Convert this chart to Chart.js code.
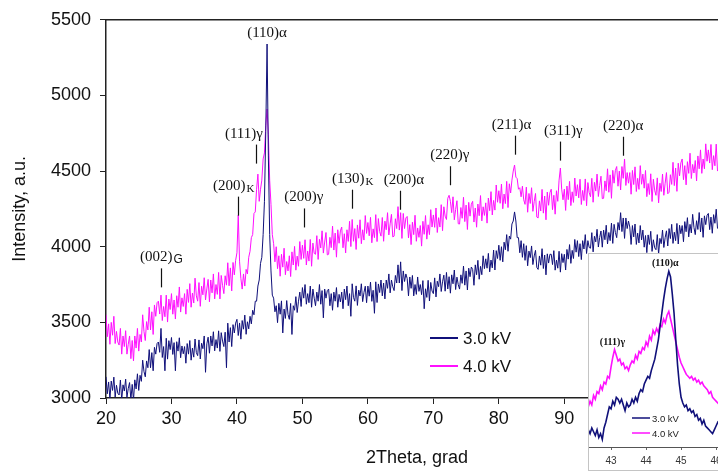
<!DOCTYPE html>
<html>
<head>
<meta charset="utf-8">
<script src="https://cdn.jsdelivr.net/npm/chart.js@4.4.1/dist/chart.umd.min.js"></script>
<style>
  html, body { margin: 0; padding: 0; background: #fff; width: 718px; height: 474px; overflow: hidden; }
  #wrap { position: relative; width: 718px; height: 474px; overflow: hidden; }
  #main { position: absolute; left: 0; top: 0; }
  #insetBox { position: absolute; left: 588px; top: 253px; width: 160px; height: 216px;
              border: 1px solid #c4c4c4; background: #fff; }
</style>
</head>
<body>
<div id="wrap">
  <canvas id="main" width="735" height="474"></canvas>
  <div id="insetBox"><canvas id="inset" width="160" height="216"></canvas></div>
</div>
<script>
// main pattern: 2Theta from 20 to 113.4, step 0.2
const thetaStart = 20;
const thetaStep = 0.2;

// 3.0 kV intensity, a.u. (one row = 2 degrees)
const kv3 = [
  3140, 3028, 3106, 2994, 3112, 3050, 3138, 3006, 3084, 3032, // 20
  3020, 3119, 2988, 3087, 3046, 3125, 3004, 3063, 3102, 2990, // 22
  3090, 2985, 3120, 3060, 3160, 3050, 3150, 3110, 3250, 3175, // 24
  3140, 3245, 3200, 3320, 3200, 3300, 3180, 3335, 3290, 3360, // 26
  3370, 3302, 3460, 3268, 3340, 3180, 3395, 3257, 3379, 3320, // 28
  3400, 3288, 3366, 3180, 3372, 3310, 3398, 3266, 3344, 3292, // 30
  3340, 3230, 3360, 3290, 3380, 3250, 3330, 3270, 3390, 3300, // 32
  3280, 3384, 3258, 3362, 3326, 3410, 3170, 3358, 3402, 3296, // 34
  3410, 3344, 3438, 3312, 3386, 3330, 3444, 3308, 3432, 3376, // 36
  3340, 3435, 3200, 3495, 3370, 3465, 3340, 3485, 3430, 3495, // 38
  3520, 3413, 3496, 3389, 3512, 3455, 3548, 3421, 3504, 3457, // 40
  3540, 3490, 3580, 3550, 3640, 3640, 3740, 3780, 3890, 3930, // 42
  4080, 4300, 4760, 5340, 4600, 4080, 3840, 3680, 3660, 3570, // 44
  3610, 3498, 3626, 3554, 3642, 3430, 3588, 3526, 3644, 3552, // 46
  3520, 3625, 3420, 3610, 3580, 3670, 3565, 3640, 3700, 3605, // 48
  3730, 3660, 3750, 3620, 3690, 3630, 3740, 3600, 3720, 3660, // 50
  3610, 3700, 3640, 3750, 3620, 3710, 3530, 3720, 3660, 3710, // 52
  3720, 3610, 3690, 3580, 3700, 3640, 3730, 3600, 3685, 3635, // 54
  3700, 3590, 3720, 3650, 3740, 3610, 3690, 3540, 3755, 3665, // 56
  3640, 3741, 3612, 3713, 3674, 3755, 3637, 3698, 3739, 3630, // 58
  3740, 3673, 3766, 3639, 3712, 3560, 3768, 3631, 3754, 3697, // 60
  3780, 3675, 3760, 3655, 3780, 3725, 3820, 3695, 3780, 3735, // 62
  3710, 3810, 3760, 3880, 3760, 3900, 3710, 3840, 3770, 3820, // 64
  3790, 3675, 3800, 3725, 3810, 3675, 3750, 3685, 3800, 3705, // 66
  3750, 3683, 3776, 3590, 3722, 3665, 3778, 3641, 3764, 3707, // 68
  3690, 3794, 3668, 3772, 3736, 3820, 3704, 3768, 3812, 3706, // 70
  3830, 3721, 3802, 3693, 3814, 3755, 3846, 3717, 3799, 3750, // 72
  3720, 3814, 3758, 3872, 3746, 3840, 3714, 3858, 3802, 3866, // 74
  3850, 3745, 3880, 3815, 3910, 3785, 3870, 3815, 3940, 3855, // 76
  3920, 3858, 3956, 3834, 3912, 3860, 3978, 3846, 3974, 3922, // 78
  4010, 3910, 4000, 3900, 4030, 3980, 4080, 3970, 4070, 4050, // 80
  4150, 4170, 4230, 4170, 4060, 4060, 3960, 4040, 3930, 4020, // 82
  3910, 4007, 3874, 3971, 3928, 4005, 3882, 3939, 3976, 3863, // 84
  3850, 3939, 3878, 3987, 3856, 3945, 3814, 3953, 3892, 3950, // 86
  3950, 3882, 3974, 3845, 3912, 3858, 3970, 3832, 3954, 3895, // 88
  3950, 3846, 3982, 3918, 4014, 3890, 3976, 3922, 4048, 3964, // 90
  4040, 3935, 4020, 3915, 4040, 3985, 4080, 3955, 4040, 3995, // 92
  3990, 4093, 3966, 4069, 4032, 4115, 3998, 4061, 4104, 3997, // 94
  4110, 4046, 4142, 4018, 4094, 4040, 4156, 4022, 4148, 4094, // 96
  4060, 4160, 4110, 4225, 4100, 4190, 4055, 4190, 4120, 4170, // 98
  4130, 4015, 4140, 4065, 4150, 4015, 4090, 4025, 4140, 4045, // 100
  4110, 3997, 4074, 3961, 4078, 4015, 4102, 3969, 4046, 3993, // 102
  3980, 4080, 3950, 4055, 4020, 4110, 3995, 4060, 4105, 4005, // 104
  4120, 4054, 4148, 4022, 4096, 4040, 4154, 4018, 4142, 4086, // 106
  4140, 4033, 4166, 4099, 4192, 4065, 4148, 4091, 4214, 4127, // 108
  4080, 4172, 4114, 4226, 4098, 4190, 4062, 4204, 4146, 4208, // 110
  4220, 4113, 4196, 4089, 4212, 4155, 4248, 4120              // 112
];

// 4.0 kV intensity, a.u.
const kv4 = [
  3550, 3405, 3490, 3355, 3500, 3415, 3540, 3360, 3440, 3370, // 20
  3350, 3460, 3290, 3410, 3340, 3445, 3290, 3355, 3410, 3260, // 22
  3380, 3245, 3410, 3330, 3460, 3310, 3420, 3370, 3550, 3440, // 24
  3380, 3505, 3450, 3600, 3450, 3570, 3420, 3615, 3540, 3630, // 26
  3640, 3555, 3680, 3512, 3605, 3537, 3680, 3502, 3654, 3585, // 28
  3690, 3554, 3648, 3522, 3676, 3600, 3734, 3568, 3662, 3605, // 30
  3690, 3554, 3718, 3632, 3756, 3600, 3694, 3628, 3792, 3675, // 32
  3640, 3763, 3606, 3739, 3682, 3795, 3648, 3721, 3784, 3636, // 34
  3780, 3695, 3820, 3655, 3750, 3685, 3830, 3655, 3810, 3745, // 36
  3690, 3808, 3746, 3894, 3742, 3860, 3708, 3896, 3814, 3910, // 38
  3960, 4210, 3900, 3790, 3720, 3820, 3740, 3850, 3820, 3930, // 40
  3970, 4060, 4080, 4220, 4230, 4380, 4480, 4300, 4380, 4440, // 42
  4580, 4620, 4800, 4910, 4740, 4440, 4280, 4080, 4020, 3900, // 44
  4000, 3855, 3940, 3805, 3950, 3865, 3990, 3815, 3902, 3840, // 46
  3940, 3803, 3966, 3879, 4002, 3845, 3938, 3871, 4034, 3916, // 48
  4010, 3923, 4046, 3879, 3972, 3905, 4048, 3871, 4024, 3956, // 50
  3950, 4073, 3916, 4049, 3992, 4105, 3958, 4031, 4094, 3946, // 52
  3950, 4062, 3994, 4136, 3978, 4090, 3931, 4112, 4023, 4105, // 54
  4130, 3993, 4086, 3959, 4112, 4035, 4168, 4001, 4180, 4036, // 56
  4120, 3982, 4144, 4056, 4178, 4020, 4112, 4044, 4206, 4088, // 58
  4160, 4072, 4194, 4026, 4118, 4060, 4212, 4034, 4186, 4100, // 60
  4070, 4193, 4036, 4169, 4112, 4225, 4078, 4151, 4214, 4065, // 62
  4070, 4185, 4120, 4265, 4110, 4225, 4055, 4220, 4120, 4190, // 64
  4200, 4058, 4146, 4014, 4162, 4080, 4208, 4036, 4124, 4062, // 66
  4140, 4004, 4168, 4082, 4206, 4050, 4145, 4080, 4245, 4130, // 68
  4210, 4128, 4256, 4094, 4192, 4130, 4278, 4106, 4264, 4202, // 70
  4180, 4320, 4340, 4300, 4225, 4330, 4178, 4246, 4304, 4152, // 72
  4150, 4259, 4188, 4327, 4166, 4275, 4114, 4293, 4202, 4281, // 74
  4300, 4163, 4256, 4129, 4282, 4205, 4338, 4171, 4264, 4207, // 76
  4290, 4156, 4322, 4238, 4364, 4210, 4306, 4242, 4408, 4294, // 78
  4370, 4287, 4414, 4251, 4348, 4285, 4432, 4259, 4416, 4355, // 80
  4440, 4500, 4540, 4460, 4450, 4380, 4390, 4330, 4400, 4310, // 82
  4280, 4394, 4228, 4352, 4286, 4390, 4234, 4298, 4352, 4196, // 84
  4190, 4303, 4236, 4379, 4222, 4335, 4178, 4361, 4274, 4357, // 86
  4380, 4245, 4340, 4215, 4370, 4300, 4440, 4520, 4380, 4310, // 88
  4380, 4240, 4401, 4311, 4432, 4272, 4363, 4293, 4454, 4335, // 90
  4410, 4323, 4446, 4279, 4372, 4305, 4448, 4271, 4424, 4357, // 92
  4330, 4452, 4294, 4426, 4368, 4480, 4332, 4404, 4466, 4318, // 94
  4320, 4435, 4370, 4515, 4360, 4475, 4320, 4505, 4420, 4505, // 96
  4530, 4400, 4500, 4375, 4530, 4452, 4580, 4405, 4490, 4420, // 98
  4490, 4347, 4504, 4411, 4528, 4365, 4452, 4379, 4536, 4413, // 100
  4480, 4387, 4504, 4331, 4418, 4345, 4482, 4299, 4446, 4373, // 102
  4340, 4455, 4290, 4420, 4365, 4480, 4340, 4420, 4490, 4350, // 104
  4360, 4476, 4412, 4558, 4404, 4520, 4366, 4552, 4468, 4554, // 106
  4580, 4443, 4536, 4409, 4562, 4485, 4618, 4451, 4544, 4487, // 108
  4570, 4435, 4600, 4515, 4640, 4485, 4580, 4515, 4680, 4565, // 110
  4640, 4553, 4676, 4509, 4602, 4535, 4678, 4500              // 112
];

// inset: 2Theta from 42.35 to 46.10, step 0.05, relative intensity
const insetStart = 42.35;
const insetStep = 0.05;
const inset3 = [
  9, 7, 10, 8, 6, 9, 5, 7, 4, 10,
  13, 17, 21, 20, 24, 22, 26, 25, 23, 25,
  22, 19, 23, 21, 22, 25, 23, 26, 24, 28,
  30, 29, 33, 35, 37, 36, 40, 43, 46, 51,
  56, 63, 70, 77, 83, 88, 92, 89, 80, 70,
  56, 43, 33, 26, 23, 21, 22, 19, 20, 18,
  19, 16, 17, 14, 15, 12, 14, 11, 10, 9,
  8, 7, 9, 11, 13, 12
];
const inset4 = [
  21, 24, 22, 27, 25, 29, 28, 32, 30, 34,
  33, 37, 36, 42, 47, 51, 48, 45, 46, 43,
  44, 41, 42, 40, 43, 45, 44, 48, 46, 50,
  49, 52, 51, 55, 53, 58, 56, 61, 59, 62,
  60, 64, 63, 67, 65, 69, 71, 67, 63, 59,
  55, 51, 47, 44, 42, 40, 38, 37, 36, 37,
  35, 36, 34, 35, 33, 34, 32, 31, 30, 28,
  29, 26, 25, 24, 23, 22
];

const seriesNames = ['3.0 kV', '4.0 kV'];
const yTicks = [3000, 3500, 4000, 4500, 5000, 5500];

// reflections marked on the main pattern
const peakNames = ['(002)', '(200)', '(111)γ', '(110)α', '(200)γ', '(130)', '(200)α', '(220)γ', '(211)α', '(311)γ', '(220)α'];
const peakSubs  = ['G', 'K', '', '', '', 'K', '', '', '', '', ''];
const peakPos   = [28.4, 40.2, 42.9, 44.6, 50.2, 57.6, 64.9, 72.5, 82.4, 89.4, 99.0];
const peakMark  = [3857, 4331, 4675, 5338, 4253, 4377, 4370, 4532, 4734, 4695, 4727];

const NAVY = '#10107a';
const MAGENTA = '#ff10ff';
const SANS = '"Liberation Sans", Arial, sans-serif';
const SERIF = '"Liberation Serif", "Times New Roman", serif';

function toPoints(arr, start, step) {
  return arr.map((v, i) => ({ x: +(start + i * step).toFixed(2), y: v }));
}

const labelShift = { 1: -5, 2: -12, 6: 4, 8: -3, 9: 3 };

const mainDecor = {
  id: 'mainDecor',
  afterDatasetsDraw(chart) {
    const ctx = chart.ctx;
    const xs = chart.scales.x, ys = chart.scales.y;
    const area = chart.chartArea;
    ctx.save();
    // top frame line
    ctx.strokeStyle = '#222';
    ctx.lineWidth = 1.5;
    ctx.beginPath();
    ctx.moveTo(area.left, area.top);
    ctx.lineTo(chart.width, area.top);
    ctx.stroke();

    // reflection labels
    ctx.fillStyle = '#111';
    ctx.strokeStyle = '#111';
    ctx.lineWidth = 1.2;
    peakNames.forEach((name, i) => {
      const px = xs.getPixelForValue(peakPos[i]);
      const py = ys.getPixelForValue(peakMark[i]);
      if (name !== '(110)α') {
        ctx.beginPath();
        ctx.moveTo(Math.round(px) + 0.5, py);
        ctx.lineTo(Math.round(px) + 0.5, py + 19);
        ctx.stroke();
      }
      ctx.font = '15px ' + SERIF;
      const w1 = ctx.measureText(name).width;
      let w2 = 0;
      const sub = peakSubs[i];
      if (sub) {
        ctx.font = (sub === 'G' ? '12px ' + SANS : '11px ' + SERIF);
        w2 = ctx.measureText(sub).width;
      }
      const cx = px + (labelShift[i] || 0);
      const x0 = cx - (w1 + w2) / 2;
      const base = py - 7;
      ctx.textAlign = 'left';
      ctx.textBaseline = 'alphabetic';
      ctx.font = '15px ' + SERIF;
      ctx.fillText(name, x0, base);
      if (sub) {
        ctx.font = (sub === 'G' ? '12px ' + SANS : '11px ' + SERIF);
        ctx.fillText(sub, x0 + w1 + 1, base + 2);
      }
    });

    // legend
    const legendY = [338, 366];
    [NAVY, MAGENTA].forEach((c, i) => {
      ctx.strokeStyle = c;
      ctx.lineWidth = 2;
      ctx.beginPath();
      ctx.moveTo(430, legendY[i]);
      ctx.lineTo(458, legendY[i]);
      ctx.stroke();
      ctx.fillStyle = '#111';
      ctx.font = '17px ' + SANS;
      ctx.textBaseline = 'middle';
      ctx.fillText(seriesNames[i], 463, legendY[i] + 1);
    });
    ctx.restore();
  }
};

new Chart(document.getElementById('main'), {
  type: 'line',
  data: {
    datasets: [
      { label: seriesNames[0], data: toPoints(kv3, thetaStart, thetaStep), borderColor: NAVY, borderWidth: 1, pointRadius: 0 },
      { label: seriesNames[1], data: toPoints(kv4, thetaStart, thetaStep), borderColor: MAGENTA, borderWidth: 1, pointRadius: 0 }
    ]
  },
  options: {
    responsive: false,
    animation: false,
    layout: { padding: { top: 13, right: 7, left: 0, bottom: 0 } },
    plugins: { legend: { display: false }, tooltip: { enabled: false } },
    scales: {
      x: {
        type: 'linear', min: 20, max: 115,
        ticks: { stepSize: 10, includeBounds: false, color: '#111', padding: 4, font: { family: SANS, size: 18 } },
        grid: { drawOnChartArea: false, drawTicks: true, tickLength: 6, color: '#222' },
        border: { color: '#222', width: 1.5 },
        title: { display: true, text: '2Theta, grad', color: '#111', font: { family: SANS, size: 18 }, padding: { top: 0, bottom: 5 } },
        afterFit(s) { s.height = 76; }
      },
      y: {
        min: 3000, max: 5500,
        afterBuildTicks(s) { s.ticks = yTicks.map(v => ({ value: v })); },
        ticks: { color: '#111', padding: 9, font: { family: SANS, size: 18 }, callback: v => String(v) },
        grid: { drawOnChartArea: false, drawTicks: true, tickLength: 6, color: '#222' },
        border: { color: '#222', width: 1.5 },
        title: { display: true, text: 'Intensity, a.u.', color: '#111', font: { family: SANS, size: 18 }, padding: { top: 9, bottom: 0 } },
        afterFit(s) { s.width = 106; }
      }
    }
  },
  plugins: [mainDecor]
});

// inset with the (110) region
const insetDecor = {
  id: 'insetDecor',
  afterDatasetsDraw(chart) {
    const ctx = chart.ctx;
    const xs = chart.scales.x, ys = chart.scales.y;
    ctx.save();
    ctx.fillStyle = '#111';
    ctx.font = 'bold 10px ' + SERIF;
    ctx.textAlign = 'center';
    ctx.textBaseline = 'alphabetic';
    ctx.fillText('(110)α', xs.getPixelForValue(44.55), ys.getPixelForValue(94.8));
    ctx.fillText('(111)γ', xs.getPixelForValue(43.04), ys.getPixelForValue(53.4));
    const ly = [164, 179];
    [NAVY, MAGENTA].forEach((c, i) => {
      ctx.strokeStyle = c;
      ctx.lineWidth = 1.5;
      ctx.beginPath();
      ctx.moveTo(43, ly[i]);
      ctx.lineTo(61, ly[i]);
      ctx.stroke();
      ctx.fillStyle = '#222';
      ctx.font = '9.5px ' + SANS;
      ctx.textAlign = 'left';
      ctx.textBaseline = 'middle';
      ctx.fillText(seriesNames[i], 63, ly[i] + 1);
    });
    ctx.restore();
  }
};

new Chart(document.getElementById('inset'), {
  type: 'line',
  data: {
    datasets: [
      { data: toPoints(inset3, insetStart, insetStep), borderColor: NAVY, borderWidth: 1.6, pointRadius: 0 },
      { data: toPoints(inset4, insetStart, insetStep), borderColor: MAGENTA, borderWidth: 1.6, pointRadius: 0 }
    ]
  },
  options: {
    responsive: false,
    animation: false,
    layout: { padding: { top: 2, right: 0, left: 0, bottom: 0 } },
    plugins: { legend: { display: false }, tooltip: { enabled: false } },
    scales: {
      x: {
        type: 'linear', min: 42.37, max: 42.37 + 160 / 35,
        ticks: { stepSize: 1, includeBounds: false, color: '#333', padding: 5, font: { family: SANS, size: 10 } },
        grid: { drawOnChartArea: false, drawTicks: true, tickLength: 3, color: '#666' },
        border: { color: '#555', width: 1 },
        afterFit(s) { s.height = 23; }
      },
      y: { display: false, min: 0, max: 100 }
    }
  },
  plugins: [insetDecor]
});
</script>
</body>
</html>
